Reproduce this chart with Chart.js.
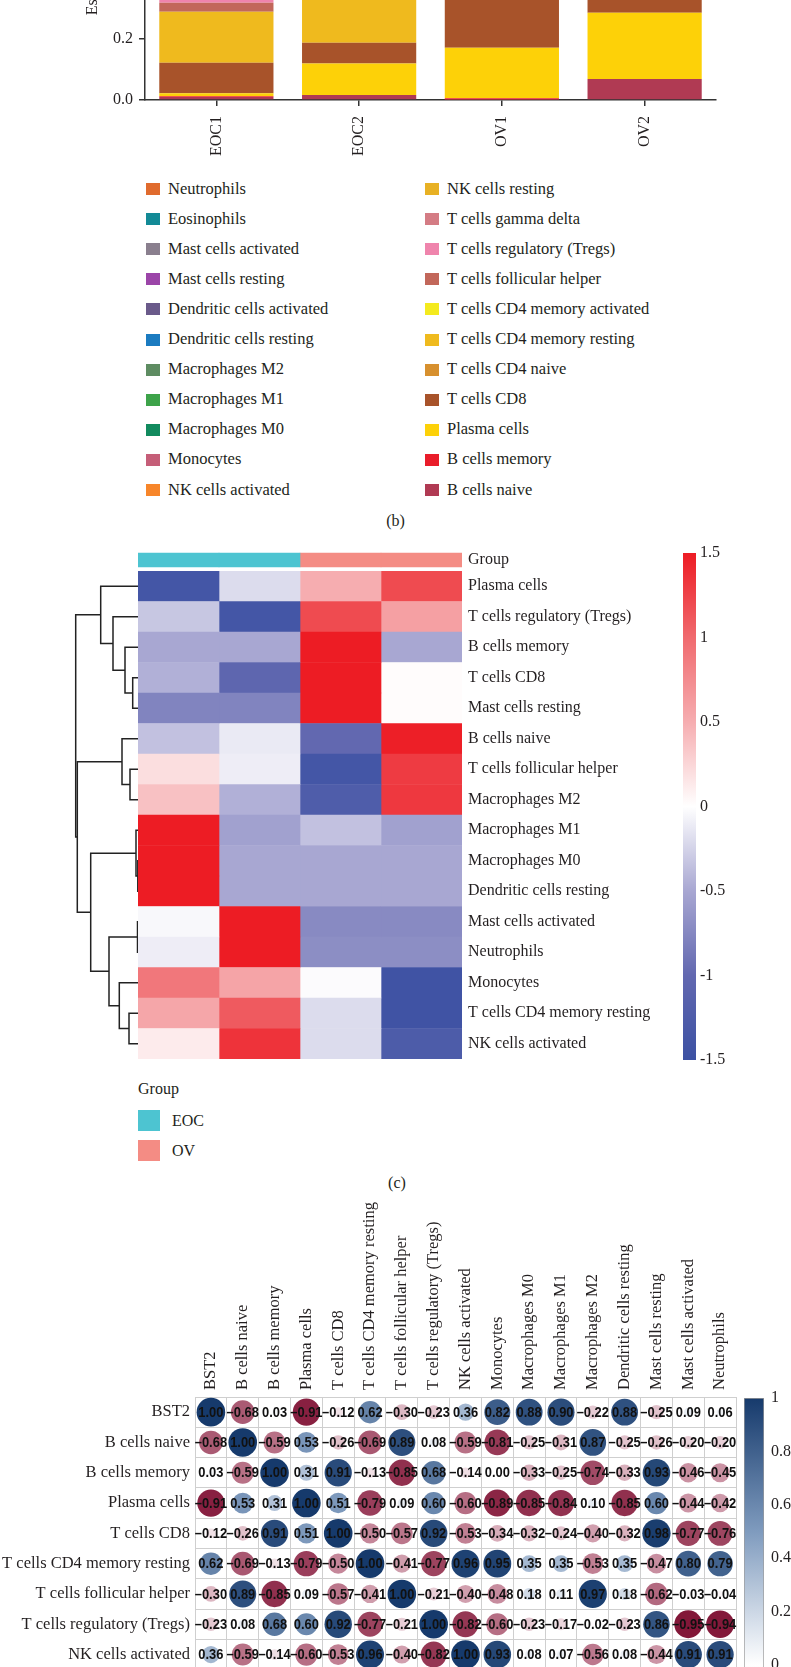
<!DOCTYPE html>
<html><head><meta charset="utf-8">
<script src="https://cdn.jsdelivr.net/npm/chart.js@4.4.1/dist/chart.umd.min.js"></script>
<style>
html,body{margin:0;padding:0;background:#fff;overflow:hidden;}
#page{position:relative;width:791px;height:1667px;overflow:hidden;font-family:'Liberation Serif','Times New Roman',serif;color:#231f20;}
canvas{position:absolute;display:block;}
.lab{position:absolute;white-space:nowrap;font-size:16px;line-height:20px;}
.sw{position:absolute;}
</style></head><body><div id="page">
<canvas id="barChart" width="791" height="400" style="left:0;top:-240px"></canvas>
<div id="barLegend"></div>
<div class="lab" style="left:0;width:791px;top:511px;text-align:center">(b)</div>
<canvas id="groupBar" width="524" height="24" style="left:138px;top:548px"></canvas>
<canvas id="dendro" width="138" height="488" style="left:0;top:571px"></canvas>
<canvas id="heat" width="524" height="488" style="left:138px;top:571px"></canvas>
<canvas id="heatScale" width="108" height="540" style="left:683px;top:540px"></canvas>
<div id="groupLegend"></div>
<div class="lab" style="left:0;width:794px;top:1173px;text-align:center">(c)</div>
<canvas id="corr" width="791" height="494" style="left:0;top:1190px"></canvas>
<canvas id="corrScale" width="100" height="572" style="left:744px;top:1380px"></canvas>
</div>
<script>
// ---------- DATA: panel (b) stacked proportions ----------
const sampleNames = ['EOC1', 'EOC2', 'OV1', 'OV2'];
const cellTypes = ['B cells naive', 'B cells memory', 'Plasma cells', 'T cells CD8', 'T cells CD4 naive',
  'T cells CD4 memory resting', 'T cells CD4 memory activated', 'T cells follicular helper',
  'T cells regulatory (Tregs)', 'T cells gamma delta', 'NK cells resting', 'NK cells activated',
  'Monocytes', 'Macrophages M0', 'Macrophages M1', 'Macrophages M2', 'Dendritic cells resting',
  'Dendritic cells activated', 'Mast cells resting', 'Mast cells activated', 'Eosinophils', 'Neutrophils'];
const cellColors = ['#B03A53', '#E91D2A', '#FDD108', '#A8532A', '#D7902E', '#EFBA1E', '#F4EA1E', '#C2675A',
  '#EF84AC', '#D47C84', '#E8B124', '#F7862A', '#C55E78', '#128A5E', '#3DA34A', '#5E8C62', '#1B7BC0',
  '#6A5A8A', '#9B45A8', '#8A7F8E', '#138A96', '#E06B2E'];
const propEOC1 = [0.010, 0.002, 0.010, 0.100, 0, 0.167, 0, 0.030, 0.012, 0, 0.020, 0.050, 0.080, 0.120, 0.060, 0.229, 0.020, 0, 0.060, 0.020, 0, 0.010];
const propEOC2 = [0.016, 0, 0.104, 0.068, 0, 0.250, 0, 0.040, 0.010, 0, 0.030, 0.040, 0.050, 0.100, 0.060, 0.180, 0.020, 0, 0.020, 0.010, 0, 0.002];
const propOV1  = [0.002, 0.004, 0.165, 0.300, 0, 0.120, 0, 0.030, 0.040, 0, 0.030, 0.020, 0.040, 0.080, 0.040, 0.080, 0.010, 0, 0.060, 0.005, 0, 0.004];
const propOV2  = [0.069, 0, 0.217, 0.200, 0, 0.120, 0, 0.060, 0.030, 0, 0.030, 0.010, 0.030, 0.080, 0.040, 0.090, 0.010, 0, 0.010, 0.002, 0, 0.002];
const propTicks = ['0.0', '0.2', '0.4', '0.6', '0.8', '1.0'];

// ---------- DATA: panel (c) heatmap ----------
const heatRows = ['Plasma cells', 'T cells regulatory (Tregs)', 'B cells memory', 'T cells CD8', 'Mast cells resting',
  'B cells naive', 'T cells follicular helper', 'Macrophages M2', 'Macrophages M1', 'Macrophages M0',
  'Dendritic cells resting', 'Mast cells activated', 'Neutrophils', 'Monocytes', 'T cells CD4 memory resting',
  'NK cells activated'];
const heatCols = ['EOC1', 'EOC2', 'OV1', 'OV2'];
const heatGroups = ['EOC', 'EOC', 'OV', 'OV'];
const groupNames = ['EOC', 'OV'];
const groupColors = ['#4DC4D1', '#F48C84'];
const heatEOC1 = [-1.40, -0.32, -0.50, -0.45, -0.78, -0.35, 0.20, 0.38, 1.50, 1.50, 1.50, -0.04, -0.10, 0.90, 0.55, 0.12];
const heatEOC2 = [-0.20, -1.40, -0.50, -1.05, -0.78, -0.12, -0.10, -0.45, -0.55, -0.50, -0.50, 1.50, 1.50, 0.57, 1.10, 1.35];
const heatOV1  = [0.50, 1.20, 1.50, 1.50, 1.50, -1.00, -1.40, -1.25, -0.35, -0.50, -0.50, -0.73, -0.70, -0.02, -0.20, -0.20];
const heatOV2  = [1.20, 0.60, -0.50, 0.02, 0.02, 1.48, 1.30, 1.32, -0.55, -0.50, -0.50, -0.73, -0.70, -1.45, -1.45, -1.27];
const heatScaleTicks = ['1.5', '1', '0.5', '0', '-0.5', '-1', '-1.5'];
// dendrogram merges: [left node, right node, height]; leaves are heatRows indices, new nodes 16, 17, ...
const dendroMerges = [[9, 10, 0.02], [11, 12, 0.05], [8, 16, 0.20], [3, 4, 0.53], [6, 7, 0.80], [14, 15, 0.90],
  [2, 19, 1.30], [5, 20, 1.60], [13, 21, 1.87], [1, 22, 2.50], [17, 24, 2.90], [0, 25, 3.73],
  [18, 26, 4.73], [23, 28, 6.07], [27, 29, 6.23]];

// ---------- DATA: panel (d) correlation ----------
const corrCols = ['BST2', 'B cells naive', 'B cells memory', 'Plasma cells', 'T cells CD8', 'T cells CD4 memory resting',
  'T cells follicular helper', 'T cells regulatory (Tregs)', 'NK cells activated', 'Monocytes', 'Macrophages M0',
  'Macrophages M1', 'Macrophages M2', 'Dendritic cells resting', 'Mast cells resting', 'Mast cells activated', 'Neutrophils'];
const corrRows = ['BST2', 'B cells naive', 'B cells memory', 'Plasma cells', 'T cells CD8', 'T cells CD4 memory resting',
  'T cells follicular helper', 'T cells regulatory (Tregs)', 'NK cells activated'];
const corrBST2   = [1.00, -0.68, 0.03, -0.91, -0.12, 0.62, -0.30, -0.23, 0.36, 0.82, 0.88, 0.90, -0.22, 0.88, -0.25, 0.09, 0.06];
const corrBnaive = [-0.68, 1.00, -0.59, 0.53, -0.26, -0.69, 0.89, 0.08, -0.59, -0.81, -0.25, -0.31, 0.87, -0.25, -0.26, -0.20, -0.20];
const corrBmem   = [0.03, -0.59, 1.00, 0.31, 0.91, -0.13, -0.85, 0.68, -0.14, 0.00, -0.33, -0.25, -0.74, -0.33, 0.93, -0.46, -0.45];
const corrPlasma = [-0.91, 0.53, 0.31, 1.00, 0.51, -0.79, 0.09, 0.60, -0.60, -0.89, -0.85, -0.84, 0.10, -0.85, 0.60, -0.44, -0.42];
const corrCD8    = [-0.12, -0.26, 0.91, 0.51, 1.00, -0.50, -0.57, 0.92, -0.53, -0.34, -0.32, -0.24, -0.40, -0.32, 0.98, -0.77, -0.76];
const corrCD4mr  = [0.62, -0.69, -0.13, -0.79, -0.50, 1.00, -0.41, -0.77, 0.96, 0.95, 0.35, 0.35, -0.53, 0.35, -0.47, 0.80, 0.79];
const corrTfh    = [-0.30, 0.89, -0.85, 0.09, -0.57, -0.41, 1.00, -0.21, -0.40, -0.48, 0.18, 0.11, 0.97, 0.18, -0.62, -0.03, -0.04];
const corrTregs  = [-0.23, 0.08, 0.68, 0.60, 0.92, -0.77, -0.21, 1.00, -0.82, -0.60, -0.23, -0.17, -0.02, -0.23, 0.86, -0.95, -0.94];
const corrNKact  = [0.36, -0.59, -0.14, -0.60, -0.53, 0.96, -0.40, -0.82, 1.00, 0.93, 0.08, 0.07, -0.56, 0.08, -0.44, 0.91, 0.91];
const corrScaleTicks = ['1', '0.8', '0.6', '0.4', '0.2', '0', '-0.2', '-0.4', '-0.6', '-0.8', '-1'];

// ---------- styles / helpers ----------
const TXT = '#231f20';
const SERIF = "'Liberation Serif', 'Times New Roman', serif";
Chart.defaults.font.family = SERIF;
Chart.defaults.font.size = 16;
Chart.defaults.color = TXT;
const heatStops = [[-1.5, '#3C51A3'], [-1.0, '#6268B0'], [-0.5, '#A8A7D2'], [0, '#FFFFFF'], [0.5, '#F6ADB0'], [1.0, '#F06A6E'], [1.5, '#ED1C24']];
const corrStops = [[-1, '#7A0A2D'], [-0.5, '#C5879A'], [0, '#FFFFFF'], [0.5, '#7F9BBE'], [1, '#163A6C']];
function hexToRgb(h) { const n = parseInt(h.slice(1), 16); return [(n >> 16) & 255, (n >> 8) & 255, n & 255]; }
function ramp(stops, v) {
  if (v <= stops[0][0]) return stops[0][1];
  for (let i = 1; i < stops.length; i++) {
    if (v <= stops[i][0]) {
      const [a, ca] = stops[i - 1], [b, cb] = stops[i];
      const t = (v - a) / (b - a), A = hexToRgb(ca), B = hexToRgb(cb);
      return 'rgb(' + A.map((x, k) => Math.round(x + (B[k] - x) * t)).join(',') + ')';
    }
  }
  return stops[stops.length - 1][1];
}
function zeroPad(s) { s.paddingTop = 0; s.paddingBottom = 0; s.paddingLeft = 0; s.paddingRight = 0; }
function gradientFor(chart, stops) {
  const y = chart.scales.y, lo = stops[0][0], hi = stops[stops.length - 1][0];
  const g = chart.ctx.createLinearGradient(0, y.getPixelForValue(hi), 0, y.getPixelForValue(lo));
  stops.forEach(([v, c]) => g.addColorStop((hi - v) / (hi - lo), c));
  return g;
}
const base = { responsive: false, animation: false, events: [], plugins: { legend: { display: false }, tooltip: { enabled: false } } };

// ---------- (b) stacked bar ----------
const propSeries = [propEOC1, propEOC2, propOV1, propOV2];
new Chart(document.getElementById('barChart'), {
  type: 'bar',
  data: {
    labels: sampleNames,
    datasets: cellTypes.map((name, i) => ({
      label: name, data: propSeries.map(s => s[i]), backgroundColor: cellColors[i],
      barPercentage: 0.8, categoryPercentage: 1, borderWidth: 0
    }))
  },
  options: Object.assign({}, base, {
    layout: { padding: { top: 35, right: 75, left: 0, bottom: 0 } },
    scales: {
      x: {
        stacked: true,
        grid: { display: true, offset: false, drawOnChartArea: false, drawTicks: true, tickLength: 6, color: '#333', lineWidth: 1.5 },
        border: { display: true, color: '#333', width: 1.5 },
        ticks: { minRotation: 90, maxRotation: 90, padding: 10, font: { size: 16 } },
        afterFit: s => { s.height = 60; zeroPad(s); }
      },
      y: {
        stacked: true, min: 0, max: 1,
        afterBuildTicks: s => { s.ticks = propTicks.map(t => ({ value: parseFloat(t) })); },
        ticks: { callback: (v, i) => propTicks[i], padding: 6, font: { size: 16 } },
        grid: { display: true, drawOnChartArea: false, drawTicks: true, tickLength: 6, color: '#333', lineWidth: 1.5 },
        border: { display: true, color: '#333', width: 1.5 },
        title: { display: true, text: 'Estimated proportion', font: { size: 16 }, padding: { top: 83, bottom: 0 } },
        afterFit: s => { s.width = 145; zeroPad(s); }
      }
    }
  })
});
// legend (two columns, reversed stacking order)
(function () {
  const box = document.getElementById('barLegend');
  const order = cellTypes.map((n, i) => i).reverse();
  const colX = [146, 425], y0 = 189, dy = 30.1;
  order.forEach((idx, k) => {
    const col = Math.floor(k / 11), row = k % 11, cy = y0 + row * dy;
    const sw = document.createElement('div');
    sw.className = 'sw';
    sw.style.cssText = `left:${colX[col]}px;top:${cy - 6}px;width:14px;height:12px;background:${cellColors[idx]}`;
    box.appendChild(sw);
    const t = document.createElement('div');
    t.className = 'lab';
    t.style.cssText = `left:${colX[col] + 22}px;top:${cy - 10.5}px;font-size:16.5px;line-height:20px`;
    t.textContent = cellTypes[idx];
    box.appendChild(t);
  });
})();

// ---------- (c) group annotation ----------
new Chart(document.getElementById('groupBar'), {
  type: 'bar',
  data: {
    labels: ['Group'],
    datasets: heatCols.map((c, i) => ({
      data: [[i, i + 1]], backgroundColor: groupColors[groupNames.indexOf(heatGroups[i])],
      grouped: false, barThickness: 14, borderWidth: 0
    }))
  },
  options: Object.assign({}, base, {
    indexAxis: 'y', layout: { padding: 0 },
    scales: {
      x: { type: 'linear', min: 0, max: heatCols.length, display: false },
      y: { position: 'right', grid: { display: false, drawTicks: false }, border: { display: false },
        ticks: { padding: 6, font: { size: 16 } }, afterFit: s => { s.width = 200; zeroPad(s); } }
    }
  })
});

// ---------- (c) heatmap ----------
const heatSeries = [heatEOC1, heatEOC2, heatOV1, heatOV2];
new Chart(document.getElementById('heat'), {
  type: 'bar',
  data: {
    labels: heatRows,
    datasets: heatSeries.map((vals, c) => ({
      data: vals.map(() => [c, c + 1]), backgroundColor: vals.map(v => ramp(heatStops, v)),
      grouped: false, barPercentage: 1, categoryPercentage: 1, borderWidth: 0
    }))
  },
  options: Object.assign({}, base, {
    indexAxis: 'y', layout: { padding: 0 },
    scales: {
      x: { type: 'linear', min: 0, max: heatCols.length, display: false },
      y: { position: 'right', grid: { display: false, drawTicks: false }, border: { display: false },
        ticks: { padding: 6, font: { size: 16 } }, afterFit: s => { s.width = 200; zeroPad(s); } }
    }
  })
});

// ---------- (c) dendrogram ----------
(function () {
  const nodeY = heatRows.map((r, i) => i);
  const nodeH = heatRows.map(() => 0);
  const links = [];
  dendroMerges.forEach(([a, b, h]) => {
    links.push([{ x: nodeH[a], y: nodeY[a] }, { x: h, y: nodeY[a] }, { x: h, y: nodeY[b] }, { x: nodeH[b], y: nodeY[b] }]);
    nodeY.push((nodeY[a] + nodeY[b]) / 2);
    nodeH.push(h);
  });
  new Chart(document.getElementById('dendro'), {
    type: 'scatter',
    data: { datasets: links.map(pts => ({ data: pts, showLine: true, pointRadius: 0, borderColor: '#222', borderWidth: 1.5, borderCapStyle: 'butt', clip: false })) },
    options: Object.assign({}, base, {
      layout: { padding: 0 },
      scales: {
        x: { type: 'linear', reverse: true, min: 0, max: 13.8, display: false },
        y: { type: 'linear', reverse: true, min: -0.5, max: heatRows.length - 0.5, display: false }
      }
    })
  });
})();

// ---------- (c) colour scale ----------
new Chart(document.getElementById('heatScale'), {
  type: 'bar',
  data: { labels: [''], datasets: [{ data: [[parseFloat(heatScaleTicks[heatScaleTicks.length - 1]), parseFloat(heatScaleTicks[0])]],
    backgroundColor: ctx => ctx.chart.chartArea ? gradientFor(ctx.chart, heatStops) : 'rgba(0,0,0,0)',
    barPercentage: 1, categoryPercentage: 1, borderWidth: 0 }] },
  options: Object.assign({}, base, {
    layout: { padding: { top: 13, bottom: 20, left: 0, right: 0 } },
    scales: {
      x: { display: false },
      y: { position: 'right', min: -1.5, max: 1.5,
        afterBuildTicks: s => { s.ticks = heatScaleTicks.map(t => ({ value: parseFloat(t) })); },
        ticks: { callback: (v, i) => heatScaleTicks[i], padding: 4, font: { size: 16 } },
        grid: { display: false, drawTicks: false }, border: { display: false },
        afterFit: s => { s.width = 95; zeroPad(s); } }
    }
  })
});
// group legend
(function () {
  const box = document.getElementById('groupLegend');
  const head = document.createElement('div');
  head.className = 'lab'; head.style.cssText = 'left:138px;top:1079px'; head.textContent = 'Group';
  box.appendChild(head);
  groupNames.forEach((g, i) => {
    const top = 1110 + i * 30;
    const sw = document.createElement('div');
    sw.className = 'sw'; sw.style.cssText = `left:138px;top:${top}px;width:22px;height:21px;background:${groupColors[i]}`;
    box.appendChild(sw);
    const t = document.createElement('div');
    t.className = 'lab'; t.style.cssText = `left:172px;top:${top + 0.5}px`; t.textContent = g;
    box.appendChild(t);
  });
})();

// ---------- (d) correlation plot ----------
const corrMatrix = [corrBST2, corrBnaive, corrBmem, corrPlasma, corrCD8, corrCD4mr, corrTfh, corrTregs, corrNKact];
const corrPts = [], corrVals = [];
corrMatrix.forEach((row, r) => row.forEach((v, c) => {
  corrPts.push({ x: corrCols[c], y: corrRows[r], r: 14.3 * Math.sqrt(Math.abs(v)) });
  corrVals.push(v);
}));
const corrText = {
  id: 'corrText',
  afterDatasetsDraw(chart) {
    const ctx = chart.ctx, meta = chart.getDatasetMeta(0);
    ctx.save();
    ctx.font = "bold 15px 'Liberation Sans', Arial, sans-serif";
    ctx.fillStyle = '#111';
    ctx.textAlign = 'center'; ctx.textBaseline = 'middle';
    meta.data.forEach((el, i) => {
      const v = corrVals[i];
      const s = (v < 0 ? '\u2013' : '') + Math.abs(v).toFixed(2);
      ctx.save();
      ctx.translate(el.x, el.y + 0.5);
      ctx.scale(0.86, 1);
      ctx.fillText(s, 0, 0);
      ctx.restore();
    });
    ctx.restore();
  }
};
const gridStyle = { display: true, offset: true, drawTicks: false, color: '#cfcfcf', lineWidth: 1 };
new Chart(document.getElementById('corr'), {
  type: 'bubble',
  data: { datasets: [{ data: corrPts, backgroundColor: corrVals.map(v => ramp(corrStops, v)), borderWidth: 0 }] },
  options: Object.assign({}, base, {
    layout: { padding: { top: 0, left: 0, right: 55, bottom: 0 } },
    scales: {
      x: { type: 'category', labels: corrCols, position: 'top', offset: true, grid: gridStyle,
        border: { display: true, color: '#cfcfcf' },
        ticks: { minRotation: 90, maxRotation: 90, padding: 7, labelOffset: 19.8, font: { size: 16.5 }, autoSkip: false },
        afterFit: s => { s.height = 207; zeroPad(s); } },
      y: { type: 'category', labels: corrRows, position: 'left', offset: true, grid: gridStyle,
        border: { display: true, color: '#cfcfcf' },
        ticks: { padding: 5, font: { size: 16.5 }, autoSkip: false },
        afterFit: s => { s.width = 195; zeroPad(s); } }
    }
  }),
  plugins: [corrText]
});
new Chart(document.getElementById('corrScale'), {
  type: 'bar',
  data: { labels: [''], datasets: [{ data: [[-1, 1]],
    backgroundColor: ctx => ctx.chart.chartArea ? gradientFor(ctx.chart, corrStops) : 'rgba(0,0,0,0)',
    borderColor: '#9a9a9a', borderWidth: 1, borderSkipped: false, barPercentage: 1, categoryPercentage: 1 }] },
  options: Object.assign({}, base, {
    layout: { padding: { top: 18, bottom: 20, left: 0, right: 0 } },
    scales: {
      x: { display: false },
      y: { position: 'right', min: -1, max: 1,
        afterBuildTicks: s => { s.ticks = corrScaleTicks.map(t => ({ value: parseFloat(t) })); },
        ticks: { callback: (v, i) => corrScaleTicks[i], padding: 7, font: { size: 16 } },
        grid: { display: false, drawTicks: false }, border: { display: false },
        afterFit: s => { s.width = 80; zeroPad(s); } }
    }
  })
});
</script></body></html>
